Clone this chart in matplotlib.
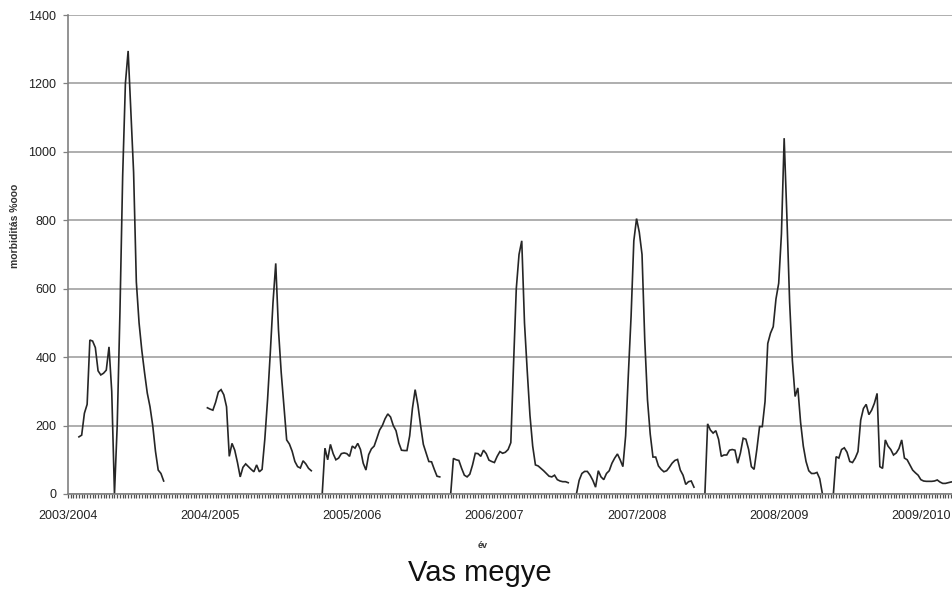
import matplotlib
matplotlib.use("Agg")
import matplotlib.pyplot as plt
import numpy as np

plt.rcParams['font.family'] = ['Liberation Sans', 'DejaVu Sans']

# Heti morbiditás (‰oo), szezononként; az első érték a szezon kezdő hetének sorszáma
idenyek = ['2003/2004', '2004/2005', '2005/2006', '2006/2007',
           '2007/2008', '2008/2009', '2009/2010']

s2003_kezd = 4
s2003 = [167, 172, 236, 262, 450, 447, 428, 360, 348, 353, 362, 430, 300, 0,
         200, 530, 930, 1200, 1295, 1120, 940, 620, 500, 420, 355, 295, 255,
         200, 125, 70, 60, 38]

s2004_kezd = 51
s2004 = [252, 248, 245, 268, 298, 305, 290, 255, 110, 148, 128, 92, 50, 78,
         88, 80, 72, 65, 85, 65, 72, 160, 275, 412, 560, 674, 480, 355, 255,
         158, 146, 125, 95, 80, 76, 97, 88, 75, 68]

s2005_kezd = 93
s2005 = [0, 134, 100, 145, 118, 100, 105, 118, 120, 118, 110, 140, 134, 148,
         130, 90, 70, 115, 132, 140, 163, 187, 200, 220, 234, 225, 200, 185,
         150, 128, 127, 127, 170, 250, 305, 260, 200, 145, 120, 95, 94, 72,
         52, 50]

s2006_kezd = 140
s2006 = [0, 104, 100, 98, 75, 55, 50, 58, 85, 119, 118, 110, 128, 118, 99,
         95, 92, 110, 124, 119, 122, 130, 150, 380, 600, 700, 740, 500, 360,
         230, 140, 85, 82, 75, 68, 60, 52, 50, 55, 42, 38, 36, 36, 33]

s2007_kezd = 186
s2007 = [0, 40, 60, 66, 66, 55, 40, 20, 68, 50, 42, 60, 68, 90, 105, 117, 100,
         80, 170, 350, 520, 740, 805, 765, 700, 450, 275, 175, 108, 108, 82,
         72, 65, 68, 78, 90, 98, 101, 70, 55, 28, 36, 38, 20]

s2008_kezd = 233
s2008 = [0, 205, 187, 178, 185, 160, 110, 114, 114, 128, 130, 128, 90, 120,
         163, 160, 130, 80, 72, 130, 197, 197, 270, 440, 470, 489, 570, 616,
         760, 1040, 810, 560, 390, 285, 310, 210, 140, 95, 68, 60, 60, 63,
         45, 0]

s2009_kezd = 280
s2009 = [0, 109, 105, 130, 135, 122, 95, 92, 105, 124, 216, 250, 262, 232,
         245, 265, 294, 80, 75, 158, 140, 130, 114, 120, 133, 158, 105, 100,
         85, 70, 62, 55, 42, 38, 37, 37, 37, 38, 41, 35, 31, 31, 33, 35, 36]

het_per_szezon = 52

# teljes heti sor, a szezonok között üres
szezonok = [(s2003_kezd, s2003), (s2004_kezd, s2004), (s2005_kezd, s2005),
            (s2006_kezd, s2006), (s2007_kezd, s2007), (s2008_kezd, s2008),
            (s2009_kezd, s2009)]
n = max(k + len(v) for k, v in szezonok)
ertek = np.full(n, np.nan)
for k, v in szezonok:
    ertek[k:k + len(v)] = v
het = np.arange(n)

fig = plt.figure(figsize=(9.52, 5.91), dpi=100)
ax = fig.add_axes([68 / 952, 1 - 494 / 591, 1 - 68 / 952, (494 - 15) / 591])

ax.plot(het, ertek, color='#262626', lw=1.2, solid_joinstyle='miter')

ax.set_xlim(0, 323.4)
ax.set_ylim(0, 1400)
ax.set_yticks(np.arange(0, 1401, 200))
ax.yaxis.grid(True, color='#a8a8a8', lw=1.3)
ax.set_axisbelow(True)

ax.set_xticks(np.arange(len(idenyek)) * het_per_szezon)
ax.set_xticklabels(idenyek)
ax.set_xticks(np.arange(0, 324), minor=True)

for s in ['top', 'right']:
    ax.spines[s].set_visible(False)
for s in ['left', 'bottom']:
    ax.spines[s].set_color('#808080')
    ax.spines[s].set_linewidth(1.2)

ax.tick_params(axis='x', which='both', length=3, width=0.9, color='#505050',
               direction='out', labelsize=9, pad=8.5)
ax.tick_params(axis='y', length=3.5, width=0.9, color='#808080',
               labelsize=9, pad=5)
for t in ax.get_xticklabels() + ax.get_yticklabels():
    t.set_color('#222222')

fig.text(15 / 952, 1 - 226 / 591, 'morbiditás %ooo', rotation=90,
         ha='center', va='center', fontsize=7.5, fontweight='bold',
         color='#333333')
fig.text(483 / 952, 1 - 545 / 591, 'év', ha='center', va='center',
         fontsize=6.5, fontweight='bold', color='#333333')
fig.text(480 / 952, 1 - 581 / 591, 'Vas megye', ha='center', va='baseline',
         fontsize=21, color='#111111')

fig.savefig('out.png', dpi=100)
